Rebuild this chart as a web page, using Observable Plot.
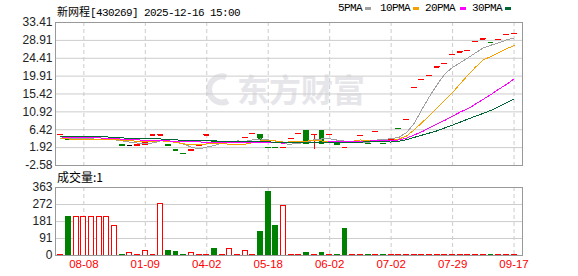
<!DOCTYPE html>
<html><head><meta charset="utf-8">
<script src="https://cdn.jsdelivr.net/npm/d3@7"></script>
<script src="https://cdn.jsdelivr.net/npm/@observablehq/plot@0.6"></script>
<style>
html,body{margin:0;padding:0;background:#fff;}
#wrap{position:relative;width:578px;height:276px;overflow:hidden;background:#fff;}
#wrap svg.plt{position:absolute;left:0;top:0;}
.t{position:absolute;white-space:nowrap;line-height:1;color:#000;}
.mono{font-family:"Liberation Mono",monospace;font-size:11px;letter-spacing:-0.6px;}
.cjk{font-family:"Noto Sans CJK SC",sans-serif;}
.sw{position:absolute;width:6px;height:3px;}
</style></head><body>
<div id="wrap">
  <div id="wm" class="t" style="left:204px;top:72px;color:#e6e6ea;">
    <svg width="30" height="34" style="position:absolute;left:0;top:1px"><path d="M22 4 A13 13 0 1 0 24 28" fill="none" stroke="#e6e6ea" stroke-width="6"/></svg>
    <span class="cjk" style="position:absolute;left:33px;top:0;font-size:32px;font-weight:bold;">东方财富</span>
  </div>
  <div id="plots"></div>
  <div id="title" class="t" style="left:57px;top:3px;"><span class="cjk" style="font-size:11px">新网程</span><span class="mono">[430269] 2025-12-16 15:00</span></div>
  <div id="legend"></div>
  <div id="vlabel" class="t cjk" style="left:57px;top:171px;font-size:12px;">成交量:1</div>
</div>
<script>
// ---- data ----
const tickIdx = [3, 11, 19, 27, 35, 43, 51, 59];
const tickLabels = ["08-08", "01-09", "04-02", "05-18", "06-02", "07-02", "07-29", "09-17"];
const priceTicks = [33.41, 28.91, 24.41, 19.91, 15.42, 10.92, 6.42, 1.92, -2.58];
const volTicks = [0, 91, 181, 272, 363];

const open = [5.15, 3.91, 3.90, 3.90, 3.90, 3.90, 3.90, 3.90, 2.46, 2.45,
  2.45, 2.60, 4.99, 5.00, 2.46, 1.21, 0.37, 1.19, 2.44, 4.99,
  3.31, 3.30, 3.30, 3.30, 4.39, 5.39, 5.00, 1.88, 1.87, 1.86,
  4.09, 5.39, 6.00, 5.19, 6.00, 5.19, 2.71, 1.86, 3.30, 4.96,
  2.91, 5.96, 2.91, 3.60, 6.66, 8.89, 16.97, 18.99, 19.99, 22.15,
  22.99, 25.26, 25.89, 26.26, 28.54, 29.19, 28.31, 29.04, 30.29, 30.54];
const close = [5.16, 3.90, 3.90, 3.90, 3.90, 3.90, 3.90, 3.90, 2.45, 2.45,
  2.46, 3.30, 5.00, 5.01, 2.45, 1.20, 0.36, 1.20, 2.45, 5.00,
  3.30, 3.30, 3.30, 3.30, 4.40, 5.40, 4.30, 1.87, 1.86, 1.87,
  4.10, 5.40, 2.90, 5.20, 2.90, 5.20, 2.70, 1.87, 3.30, 4.97,
  2.90, 5.97, 2.90, 3.95, 6.65, 8.90, 16.98, 19.00, 20.00, 22.16,
  23.00, 25.27, 25.90, 26.27, 28.55, 29.20, 28.30, 29.05, 30.30, 30.55];
const high = [5.16, 3.91, 3.90, 3.90, 3.90, 3.90, 3.90, 3.90, 2.46, 2.45,
  2.46, 3.30, 5.00, 5.01, 2.46, 1.21, 0.37, 1.20, 2.45, 5.00,
  3.31, 3.30, 3.30, 3.30, 4.40, 5.40, 5.00, 1.88, 1.87, 1.87,
  4.10, 5.40, 6.00, 5.20, 6.00, 5.20, 2.71, 1.87, 3.30, 4.97,
  2.91, 5.97, 2.91, 3.95, 6.66, 8.90, 16.98, 19.00, 20.00, 22.16,
  23.00, 25.27, 25.90, 26.27, 28.55, 29.20, 28.31, 29.05, 30.30, 30.55];
const low = [5.15, 3.90, 3.90, 3.90, 3.90, 3.90, 3.90, 3.90, 2.45, 2.45,
  2.45, 2.60, 4.99, 5.00, 2.45, 1.20, 0.36, 1.19, 2.44, 4.99,
  3.30, 3.30, 3.30, 3.30, 4.39, 5.39, 2.95, 1.87, 1.86, 1.86,
  4.09, 5.39, 2.90, 1.37, 2.90, 5.19, 2.70, 1.86, 3.30, 4.96,
  2.90, 5.96, 2.90, 3.60, 6.65, 8.89, 16.97, 18.99, 19.99, 22.15,
  22.99, 25.26, 25.89, 26.26, 28.54, 29.19, 28.30, 29.04, 30.29, 30.54];
const volume = [1, 203, 203, 203, 203, 203, 203, 160, 5, 16,
  2, 26, 2, 275, 26, 17, 5, 16, 2, 2,
  37, 2, 37, 2, 26, 2, 123, 340, 160, 266,
  2, 2, 12, 2, 13, 2, 3, 139, 2, 2,
  2, 2, 2, 2, 2, 2, 2, 2, 2, 2,
  2, 2, 2, 2, 2, 2, 3, 2, 2, 2];

const ma5 = [4.3, 4.3, 4.2, 4.2, 4.15, 3.9, 3.9, 3.9, 3.6, 3.3,
  3.05, 2.9, 3.1, 3.6, 3.6, 3.4, 2.8, 2.05, 1.55, 2.05,
  2.45, 3.05, 3.45, 3.6, 3.5, 3.9, 4.1, 3.85, 3.55, 2.85,
  2.8, 3.0, 3.25, 3.9, 4.1, 4.15, 3.8, 3.55, 3.2, 3.2,
  3.15, 3.8, 4.0, 4.15, 4.5, 5.7, 8.0, 11.5, 14.8, 17.8,
  20.5, 22.1, 23.3, 24.5, 25.8, 27.0, 27.7, 28.3, 29.0, 29.5];
const ma10 = [4.1, 4.1, 4.0, 3.95, 3.9, 3.9, 3.9, 3.9, 3.8, 3.74,
  3.47, 3.41, 3.52, 3.63, 3.48, 3.21, 2.86, 2.59, 2.59, 2.84,
  2.93, 2.93, 2.76, 2.59, 2.78, 3.2, 3.6, 3.66, 3.6, 3.29,
  3.37, 3.58, 3.54, 3.73, 3.58, 3.56, 3.4, 3.4, 3.54, 3.85,
  3.73, 3.79, 3.79, 3.67, 4.1, 4.8, 6.4, 8.2, 10.0, 11.9,
  13.9, 15.8, 18.0, 20.2, 22.2, 24.0, 24.85, 25.85, 26.8, 27.6];
const ma20 = [4.6, 4.55, 4.5, 4.45, 4.4, 4.35, 4.3, 4.25, 4.0, 3.95,
  3.85, 3.8, 3.75, 3.7, 3.6, 3.5, 3.45, 3.4, 3.35, 3.29,
  3.20, 3.17, 3.14, 3.11, 3.13, 3.21, 3.23, 3.13, 3.10, 3.07,
  3.15, 3.25, 3.15, 3.16, 3.18, 3.38, 3.50, 3.53, 3.57, 3.57,
  3.55, 3.69, 3.67, 3.70, 3.85, 4.3, 5.1, 5.9, 6.9, 7.9,
  8.8, 9.8, 10.9, 11.7, 12.9, 14.1, 15.3, 16.6, 17.8, 19.25];
const ma30 = [4.75, 4.75, 4.7, 4.7, 4.65, 4.6, 4.6, 4.55, 4.35, 4.3,
  4.25, 4.2, 4.15, 4.1, 3.9, 3.85, 3.8, 3.75, 3.7, 3.65,
  3.6, 3.55, 3.5, 3.45, 3.42, 3.4, 3.38, 3.35, 3.3, 3.29,
  3.25, 3.30, 3.27, 3.31, 3.28, 3.32, 3.28, 3.22, 3.25, 3.33,
  3.34, 3.43, 3.36, 3.33, 3.5, 3.9, 4.5, 5.05, 5.6, 6.15,
  6.9, 7.6, 8.35, 9.1, 9.85, 10.55, 11.3, 12.2, 13.15, 14.15];
const maNames = ["5PMA", "10PMA", "20PMA", "30PMA"];

// ---- styles ----
const RED = "#ff0000", GREEN = "#008000", BLACK = "#000000";
const maColors = ["#a0a0a0", "#f5a000", "#ff00ff", "#006633"];
const maSeries = [ma5, ma10, ma20, ma30];
const HW = 0.32;
const XDOM = [-0.69, 60.1];

const candles = close.map((c, i) => ({
  i, o: open[i], h: high[i], l: low[i], c, v: volume[i],
  prev: i ? close[i - 1] : open[i]
}));
const candleColor = d => d.c > d.o ? RED : d.c < d.o ? GREEN : BLACK;
const bodyFill = d => d.c > d.o ? "#ffffff" : d.c < d.o ? GREEN : "none";
const volUp = d => d.c >= d.prev;

const baseStyle = {background: "transparent", fontFamily: "'Liberation Sans', Arial, sans-serif", fontSize: "12px", overflow: "visible"};
const grid = {stroke: "#cccccc", strokeOpacity: 1};
const dashGrid = {stroke: "#cccccc", strokeOpacity: 1, strokeDasharray: "4,3"};

const pricePlot = Plot.plot({
  width: 578, height: 276,
  marginLeft: 55, marginRight: 56, marginTop: 22, marginBottom: 111,
  style: baseStyle,
  x: {type: "linear", domain: XDOM, axis: null},
  y: {domain: [-2.58, 33.41], axis: null},
  color: {type: "identity"},
  marks: [
    Plot.gridY(priceTicks, grid),
    Plot.gridX(tickIdx, dashGrid),
    Plot.axisY(priceTicks, {tickSize: 0, tickPadding: 3, tickFormat: d => d.toFixed(2), color: "#222", label: null, fontSize: 12}),
    Plot.ruleX(candles, {x: "i", y1: "l", y2: "h", stroke: candleColor, shapeRendering: "crispEdges"}),
    Plot.rect(candles, {x1: d => d.i - HW, x2: d => d.i + HW, y1: "o", y2: "c", fill: bodyFill, stroke: candleColor, shapeRendering: "crispEdges"}),
    Plot.ruleY(candles, {y: "c", x1: d => d.i - HW, x2: d => d.i + HW, stroke: candleColor, shapeRendering: "crispEdges"}),
    Plot.ruleY(candles, {y: "o", x1: d => d.i - HW, x2: d => d.i + HW, stroke: candleColor, shapeRendering: "crispEdges"}),
    ...maSeries.map((s, k) => Plot.lineY(s, {stroke: maColors[k], strokeWidth: 1, shapeRendering: "crispEdges"})),
    Plot.frame({stroke: "#999999", strokeOpacity: 1})
  ]
});

const volPlot = Plot.plot({
  width: 578, height: 276,
  marginLeft: 55, marginRight: 56, marginTop: 187, marginBottom: 21,
  style: baseStyle,
  x: {type: "linear", domain: XDOM, axis: null},
  y: {domain: [0, 363], axis: null},
  color: {type: "identity"},
  marks: [
    Plot.gridY(volTicks, grid),
    Plot.gridX(tickIdx, dashGrid),
    Plot.axisY(volTicks, {tickSize: 0, tickPadding: 3, color: "#222", label: null, fontSize: 12}),
    Plot.axisX(tickIdx, {tickSize: 0, tickPadding: 4, tickFormat: d => tickLabels[tickIdx.indexOf(d)], color: RED, label: null, fontSize: 11.5}),
    Plot.rect(candles, {x1: d => d.i - HW, x2: d => d.i + HW, y1: 0, y2: "v",
      fill: d => volUp(d) ? "#ffffff" : GREEN, stroke: d => volUp(d) ? RED : GREEN, shapeRendering: "crispEdges"}),
    Plot.frame({stroke: "#999999", strokeOpacity: 1})
  ]
});

pricePlot.classList.add("plt");
volPlot.classList.add("plt");
const holder = document.getElementById("plots");
holder.appendChild(pricePlot);
holder.appendChild(volPlot);

// legend
const legend = document.getElementById("legend");
const legLeft = [338, 380, 425, 472];
const swLeft = [365, 413, 460, 505];
maNames.forEach((n, k) => {
  const t = document.createElement("div");
  t.className = "t mono";
  t.style.left = legLeft[k] + "px";
  t.style.top = "3px";
  t.textContent = n;
  legend.appendChild(t);
  const s = document.createElement("div");
  s.className = "sw";
  s.style.left = swLeft[k] + "px";
  s.style.top = "7px";
  s.style.background = maColors[k];
  legend.appendChild(s);
});
</script>
</body></html>
